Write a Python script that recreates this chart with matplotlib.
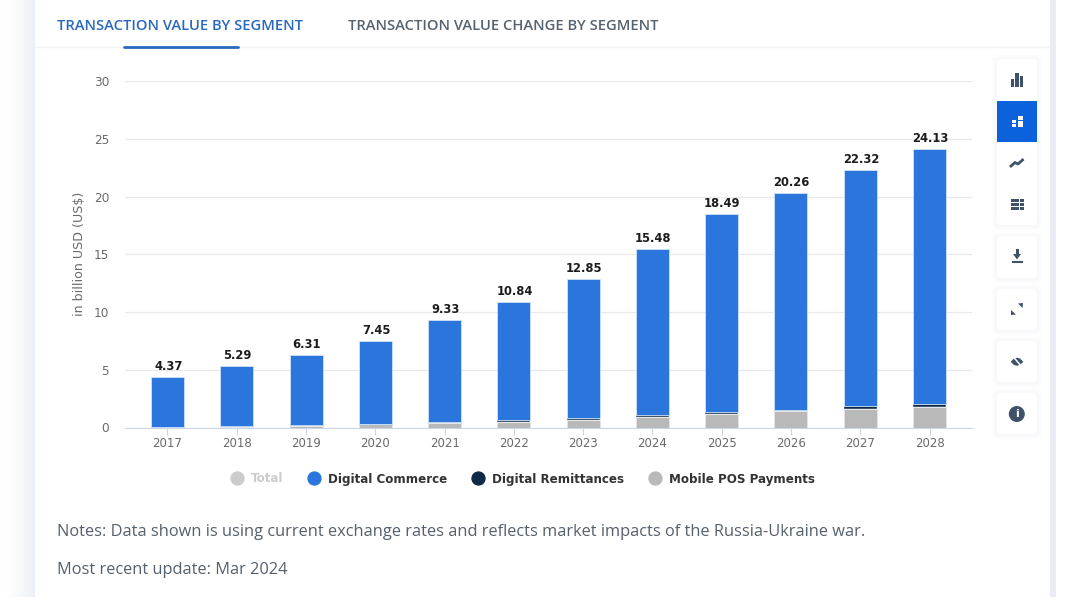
#!/usr/bin/env python3

# stacked bars of transaction value by segment, inside a page card with tabs and tool buttons

import matplotlib
matplotlib.use("Agg")
import matplotlib.pyplot as plt
from matplotlib.lines import Line2D
from matplotlib.patches import FancyBboxPatch, Rectangle, Circle, Polygon

years = ["2017", "2018", "2019", "2020", "2021", "2022", "2023", "2024", "2025", "2026", "2027", "2028"]
totals = [4.37, 5.29, 6.31, 7.45, 9.33, 10.84, 12.85, 15.48, 18.49, 20.26, 22.32, 24.13]
mobile_pos = [0.05, 0.08, 0.15, 0.27, 0.38, 0.50, 0.65, 0.93, 1.14, 1.40, 1.60, 1.80]
remittances = [0.03, 0.03, 0.03, 0.05, 0.10, 0.13, 0.20, 0.12, 0.20, 0.15, 0.22, 0.20]
commerce = [4.29, 5.18, 6.13, 7.13, 8.85, 10.21, 12.00, 14.43, 17.15, 18.71, 20.50, 22.13]
y_ticks = [0, 5, 10, 15, 20, 25, 30]

BLUE = "#2a76dc"
NAVY = "#0f2a46"
GREY = "#b9b9b9"
W, H = 1080, 604

plt.rcParams['font.family'] = ['DejaVu Sans']

fig = plt.figure(figsize = (W / 100, H / 100), dpi = 100, facecolor = "#ffffff")

# page layer, in pixel coordinates
page = fig.add_axes([0, 0, 1, 1], zorder = 0)
page.set_xlim(0, W)
page.set_ylim(H, 0)
page.axis("off")

# soft shadow left of the card, band on the right
for i in range(32):
    f = (i / 31) ** 1.4
    shade = (1 - 0.075 * f, 1 - 0.06 * f, 1 - 0.045 * f)
    page.add_patch(Rectangle((3 + i, 0), 1.2, 597, fc = shade, ec = "none"))
page.add_patch(Rectangle((1050, 0), 5.5, 597, fc = "#e9edf3", ec = "none"))
page.add_patch(FancyBboxPatch((35, 1), 1015, 640, boxstyle = "round,pad=0,rounding_size=6", fc = "white", ec = "none"))

# tabs
page.plot([35, 1050], [46.5, 46.5], color = "#f1f3f6", lw = 1)
page.plot([123.5, 237.5], [47, 47], color = "#2a68bd", lw = 2, solid_capstyle = "round")
page.text(57, 25.5, "TRANSACTION VALUE BY SEGMENT", color = "#2a68bd", fontsize = 10.63,
          family = "Open Sans", fontweight = "semibold", va = "center")
page.text(348, 25.5, "TRANSACTION VALUE CHANGE BY SEGMENT", color = "#55626f", fontsize = 10.63,
          family = "Open Sans", fontweight = "semibold", va = "center")

# notes
page.text(57, 532.5, "Notes: Data shown is using current exchange rates and reflects market impacts of the Russia-Ukraine war.",
          color = "#54606c", fontsize = 11.84, family = "Open Sans", va = "center")
page.text(57, 570, "Most recent update: Mar 2024", color = "#54606c", fontsize = 11.84, family = "Open Sans", va = "center")

# tool buttons
ICON = "#3f5268"
for top, bottom in [(59, 225), (236, 278), (289, 330), (341, 382), (393, 434)]:
    for i in range(5):
        page.add_patch(FancyBboxPatch((997 - 5 + i, top - 4 + i), 50 - 2 * i, bottom - top + 9 - 2 * i,
                                      boxstyle = "round,pad=0,rounding_size=6", fc = "#e6eaf0", ec = "none", alpha = 0.06))
    page.add_patch(FancyBboxPatch((997, top), 40, bottom - top, boxstyle = "round,pad=0,rounding_size=4", fc = "white", ec = "none"))
page.add_patch(Rectangle((997, 100.5), 40, 41.5, fc = "#0b62db", ec = "none"))

# bar icon
for x0, w, h in [(1011, 3, 8), (1015, 3.5, 14), (1019.5, 3.5, 11)]:
    page.add_patch(Rectangle((x0, 87 - h), w, h, fc = ICON, ec = "none"))
# stacked icon
for x0, y0, w, h in [(1011.7, 120, 4.3, 2.8), (1011.7, 124, 4.3, 2.8), (1018.3, 116, 4.7, 3.8), (1018.3, 120.5, 4.7, 6.2)]:
    page.add_patch(Rectangle((x0, y0), w, h, fc = "white", ec = "none"))
# line icon
page.plot([1011, 1015, 1018, 1022.5], [166, 162.5, 164, 160], color = ICON, lw = 2)
# table icon
for r in range(3):
    page.add_patch(Rectangle((1010.7, 199 + r * 3.9), 8.6, 3, fc = ICON, ec = "none"))
    page.add_patch(Rectangle((1020, 199 + r * 3.9), 1.7, 3, fc = ICON, ec = "none"))
    page.add_patch(Rectangle((1022.3, 199 + r * 3.9), 1.7, 3, fc = ICON, ec = "none"))
# download icon
page.add_patch(Polygon([[1013, 254], [1021, 254], [1017, 259.5]], fc = ICON, ec = "none"))
page.plot([1017, 1017], [250, 255], color = ICON, lw = 2.2)
page.plot([1012.7, 1022], [262, 262], color = ICON, lw = 1.5)
# expand icon
page.add_patch(Polygon([[1018, 303.5], [1023, 303], [1022.5, 308]], fc = ICON, ec = "none"))
page.add_patch(Polygon([[1011, 310], [1011, 315], [1016, 314.5]], fc = ICON, ec = "none"))
# hide icon
page.add_patch(Polygon([[1010.7, 361.7], [1014, 358.5], [1017, 357.7], [1020, 358.5], [1023.3, 361.7],
                        [1020, 365], [1017, 365.7], [1014, 365]], fc = ICON, ec = "none"))
page.plot([1013, 1022], [356.5, 367], color = "white", lw = 1.1)
# info icon
page.add_patch(Circle((1016.8, 414), 8, fc = ICON, ec = "none"))
page.text(1016.8, 414, "i", color = "white", fontsize = 8, fontweight = "bold", ha = "center", va = "center")

# chart
ax = fig.add_axes([125 / W, 1 - 427.5 / H, (972 - 125) / W, (427.5 - 81) / H], zorder = 1)
ax.patch.set_alpha(0)

xs = list(range(len(years)))
width = 0.476
lower = [a + b for a, b in zip(mobile_pos, remittances)]
ax.bar(xs, mobile_pos, width, color = GREY, edgecolor = "#e3e6ea", linewidth = 0.5, zorder = 3)
ax.bar(xs, remittances, width, bottom = mobile_pos, color = NAVY, edgecolor = "white", linewidth = 0.3, zorder = 3)
ax.bar(xs, commerce, width, bottom = lower, color = BLUE, edgecolor = "#cfe2f8", linewidth = 0.6, zorder = 3)

for x, total in zip(xs, totals):
    ax.text(x + 0.01, total + 0.35, "{0:.2f}".format(total), ha = "center", va = "bottom", fontsize = 8.3,
            fontweight = "semibold", color = "#1c1c1c", zorder = 4)

ax.set_xlim(-0.613, 11.613)
ax.set_ylim(0, 30)
ax.set_xticks(xs)
ax.set_xticklabels(years)
ax.set_yticks(y_ticks)
ax.tick_params(axis = "x", length = 5, width = 0.8, color = "#ccd6eb", labelsize = 8.5, labelcolor = "#6a6a6a", pad = 1.5)
ax.tick_params(axis = "y", length = 0, labelsize = 8.7, labelcolor = "#6a6a6a", pad = 11.5)
ax.set_ylabel("in billion USD (US$)", fontsize = 9.1, color = "#6a6a6a", labelpad = 5.5)
ax.grid(True, axis = "y", color = "#e8e9eb", linewidth = 0.9, zorder = 0)
ax.set_axisbelow(True)
for name in ["top", "right", "left"]:
    ax.spines[name].set_visible(False)
ax.spines["bottom"].set_color("#ccd6eb")

# legend
names = ["Total", "Digital Commerce", "Digital Remittances", "Mobile POS Payments"]
colors = ["#cccccc", BLUE, NAVY, GREY]
handles = [Line2D([], [], linestyle = "none", marker = "o", markersize = 9.3, color = c) for c in colors]
legend = ax.legend(handles, names, loc = "center", bbox_to_anchor = ((520 - 125) / (972 - 125), -51.5 / 346.5),
                   ncol = 4, frameon = False, handletextpad = 0.2, columnspacing = 1.55,
                   prop = {"size": 8.55, "weight": "semibold"})
for label, c in zip(legend.get_texts(), ["#cccccc", "#333333", "#333333", "#333333"]):
    label.set_color(c)

plt.savefig("out.png", dpi = 100)
